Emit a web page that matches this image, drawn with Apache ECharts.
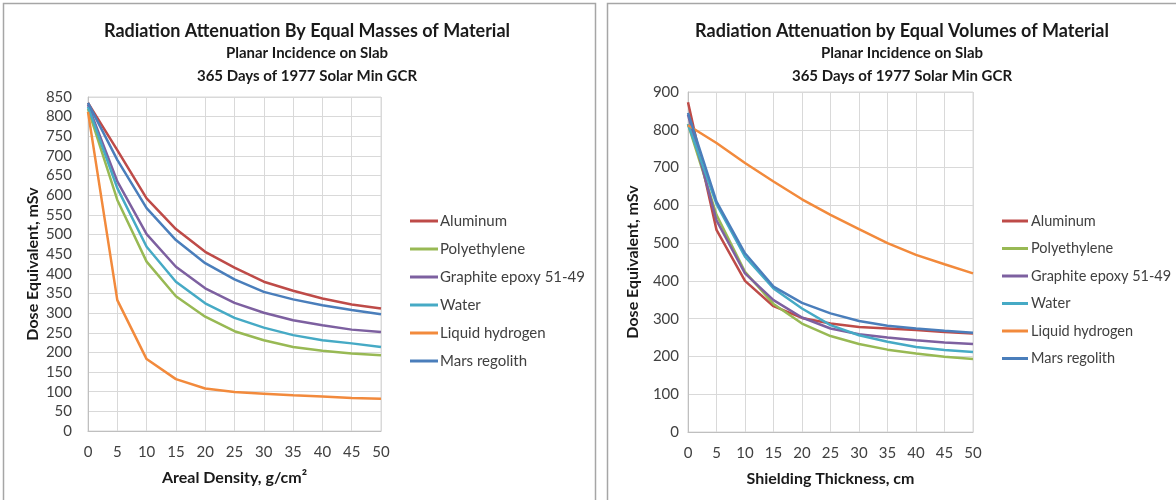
<!DOCTYPE html>
<html>
<head>
<meta charset="utf-8">
<script src="https://cdn.jsdelivr.net/npm/echarts@6/dist/echarts.min.js"></script>
<style>
  html, body { margin: 0; padding: 0; background: #fff; }
  #chart { width: 1176px; height: 500px; }
</style>
</head>
<body>
<div id="chart"></div>
<script>
// x categories (same for both charts)
const xTicks = ["0", "5", "10", "15", "20", "25", "30", "35", "40", "45", "50"];
const materials = ["Aluminum", "Polyethylene", "Graphite epoxy 51-49", "Water", "Liquid hydrogen", "Mars regolith"];
const colors = ["#BE4B48", "#98B954", "#7D60A0", "#46AAC5", "#F28A3C", "#4A7EBB"];

// equal masses, dose equivalent mSv vs areal density g/cm2
const massAluminum = [835, 715, 592, 514, 456, 416, 380, 357, 337, 322, 312];
const massPolyethylene = [820, 588, 431, 343, 291, 254, 231, 214, 204, 197, 193];
const massGraphite = [830, 635, 501, 418, 363, 326, 301, 282, 269, 258, 252];
const massWater = [825, 618, 469, 380, 325, 288, 263, 244, 231, 223, 214];
const massHydrogen = [812, 333, 183, 132, 108, 99, 95, 91, 88, 84, 82];
const massRegolith = [835, 690, 567, 486, 427, 386, 354, 335, 320, 308, 297];

// equal volumes, dose equivalent mSv vs shielding thickness cm
const volAluminum = [873, 535, 400, 333, 302, 287, 278, 274, 270, 265, 261];
const volPolyethylene = [815, 575, 424, 339, 287, 254, 233, 218, 208, 199, 193];
const volGraphite = [840, 560, 420, 349, 303, 274, 259, 250, 243, 237, 233];
const volWater = [815, 603, 464, 380, 327, 283, 256, 239, 225, 217, 212];
const volHydrogen = [812, 765, 712, 663, 616, 575, 537, 500, 469, 444, 420];
const volRegolith = [845, 610, 473, 385, 342, 314, 294, 281, 274, 268, 263];

const massSeries = [massAluminum, massPolyethylene, massGraphite, massWater, massHydrogen, massRegolith];
const volSeries = [volAluminum, volPolyethylene, volGraphite, volWater, volHydrogen, volRegolith];

const FONT = "Lato";
const textColor = "#404040";
const gridColor = "#D9D9D9";

const chart = echarts.init(document.getElementById("chart"));

function makeSeries(list, idx) {
  return list.map((vals, i) => ({
    name: materials[i],
    type: "line",
    xAxisIndex: idx,
    yAxisIndex: idx,
    data: vals,
    symbol: "none",
    color: colors[i],
    lineStyle: { width: 2.5 },
    z: i === 5 ? 3 : 2,
  }));
}

function makeTitle(text, center) {
  return {
    text: text,
    subtext: "Planar Incidence on Slab\n365 Days of 1977 Solar Min GCR",
    left: center,
    textAlign: "center",
    top: 15,
    itemGap: 0,
    textStyle: { fontFamily: FONT, fontSize: 18, fontWeight: "bold", color: "#1a1a1a", lineHeight: 22 },
    subtextStyle: { fontFamily: FONT, fontSize: 15, fontWeight: "bold", color: "#1a1a1a", lineHeight: 23 },
  };
}

function makeXAxis(idx, name) {
  return {
    type: "category",
    gridIndex: idx,
    data: xTicks,
    boundaryGap: false,
    name: name,
    nameLocation: "middle",
    nameGap: 39,
    nameTextStyle: { fontFamily: FONT, fontSize: 16, fontWeight: "bold", color: "#1a1a1a" },
    axisLine: { lineStyle: { color: "#BFBFBF", width: 1 } },
    axisTick: { show: false },
    axisLabel: { fontFamily: FONT, fontSize: 15, color: textColor, margin: 14 },
    splitLine: { show: true, lineStyle: { color: gridColor, width: 1 } },
  };
}

function makeYAxis(idx, max, step, margin) {
  return {
    type: "value",
    gridIndex: idx,
    min: 0,
    max: max,
    interval: step,
    name: "Dose Equivalent, mSv",
    nameLocation: "middle",
    nameGap: 47,
    nameTextStyle: { fontFamily: FONT, fontSize: 16, fontWeight: "bold", color: "#1a1a1a" },
    axisLine: { show: true, lineStyle: { color: "#BFBFBF", width: 1 } },
    axisTick: { show: false },
    axisLabel: { fontFamily: FONT, fontSize: 15, color: textColor, margin: margin },
    splitLine: { show: true, lineStyle: { color: gridColor, width: 1 } },
  };
}

function makeLegend(left, width, gap, pad, size) {
  return {
    data: materials,
    orient: "vertical",
    left: left,
    top: 208,
    icon: "rect",
    itemWidth: width,
    itemHeight: 3,
    itemGap: gap,
    textStyle: { fontFamily: FONT, fontSize: size, color: textColor, lineHeight: 16, padding: [0, 0, 0, pad] },
    selectedMode: false,
  };
}

const option = {
  backgroundColor: "#fff",
  animation: false,
  graphic: [
    { type: "rect", shape: { x: 3.5, y: 3.5, width: 592, height: 510 }, style: { fill: "none", stroke: "#A6A6A6", lineWidth: 1.5 } },
    { type: "rect", shape: { x: 607.5, y: 3.5, width: 600, height: 510 }, style: { fill: "none", stroke: "#A6A6A6", lineWidth: 1.5 } },
  ],
  title: [
    makeTitle("Radiation Attenuation By Equal Masses of Material", 302),
    makeTitle("Radiation Attenuation by Equal Volumes of Material", 897),
  ],
  legend: [makeLegend(405, 28, 12, -3, 15), makeLegend(997, 26, 11.5, -2, 14.5)],
  grid: [
    { left: 88, top: 97, width: 293, height: 334, show: true, borderColor: gridColor, borderWidth: 1 },
    { left: 688, top: 92, width: 285, height: 340, show: true, borderColor: gridColor, borderWidth: 1 },
  ],
  xAxis: [makeXAxis(0, "Areal Density, g/cm\u00B2"), makeXAxis(1, "Shielding Thickness, cm")],
  yAxis: [makeYAxis(0, 850, 50, 16), makeYAxis(1, 900, 100, 9)],
  series: makeSeries(massSeries, 0).concat(makeSeries(volSeries, 1)),
};

chart.setOption(option);
</script>
</body>
</html>
